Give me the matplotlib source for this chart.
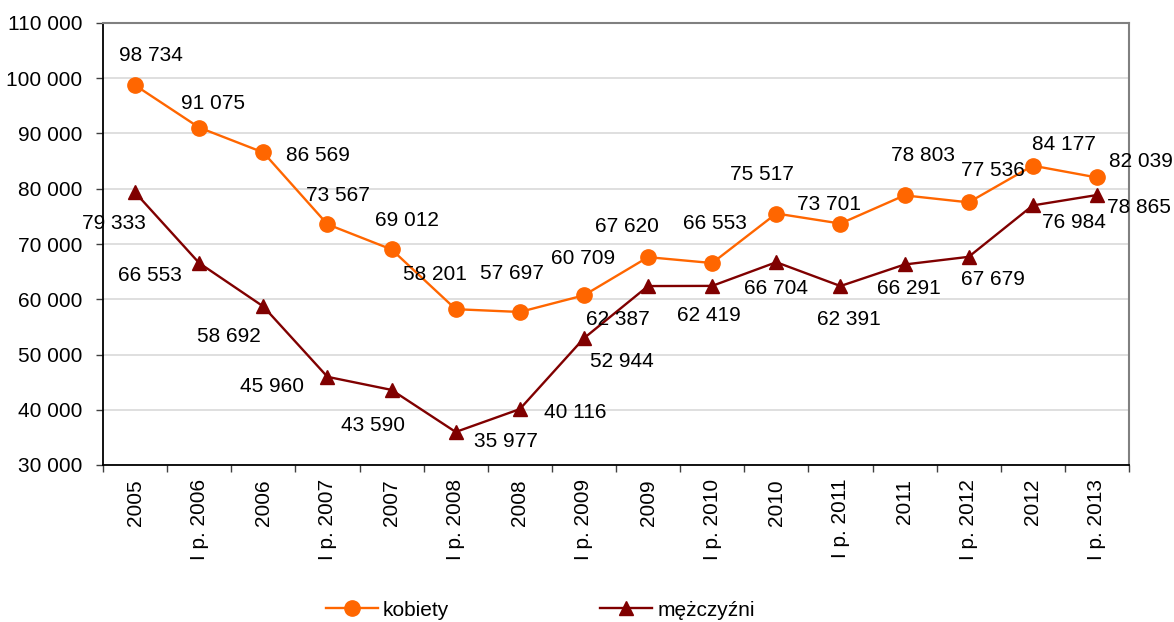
import matplotlib
matplotlib.use("Agg")
import matplotlib.pyplot as plt
import numpy as np

categories = ["2005", "I p. 2006", "2006", "I p. 2007", "2007", "I p. 2008", "2008",
              "I p. 2009", "2009", "I p. 2010", "2010", "I p. 2011", "2011",
              "I p. 2012", "2012", "I p. 2013"]
kobiety = [98734, 91075, 86569, 73567, 69012, 58201, 57697, 60709, 67620,
           66553, 75517, 73701, 78803, 77536, 84177, 82039]
mezczyzni = [79333, 66553, 58692, 45960, 43590, 35977, 40116, 52944, 62387,
             62419, 66704, 62391, 66291, 67679, 76984, 78865]

# label centre offsets in pixels (dx, dy; dy upward)
k_off = [(16, 32), (14, 26), (55, -1), (11, 31), (15, 31), (-21, 37), (-8, 40), (-1, 39),
         (-21, 33), (3, 42), (-14, 41), (-11, 21), (18, 42), (24, 34), (31, 23), (44, 18)]
m_off = [(-21, -29), (-49, -10), (-34, -28), (-55, -8), (-19, -34), (50, -8), (55, -1), (38, -21),
         (-30, -31), (-3, -28), (0, -24), (8, -32), (4, -22), (24, -21), (41, -15), (42, -11)]

plt.rcParams['font.family'] = ['Liberation Sans', 'DejaVu Sans']
FS = 15
HALF_DIGIT = 0.716 * FS * 100 / 72 / 2  # half digit height in px

def fmt(v):
    return f"{v:,}".replace(",", " ")

fig = plt.figure(figsize=(11.74, 6.22), dpi=100)
ax = fig.add_axes([103/1174, 1-465/622, (1129-103)/1174, (465-23)/622])

x = np.arange(len(categories))
orange = "#FF6600"
dred = "#800000"
ax.plot(x, kobiety, color=orange, lw=1.7, marker='o', ms=11, label="kobiety", zorder=3)
ax.plot(x, mezczyzni, color=dred, lw=1.7, marker='^', ms=10.5, label="mężczyźni", zorder=3)

for vals, offs in ((kobiety, k_off), (mezczyzni, m_off)):
    for xi, v, (dx, dy) in zip(x, vals, offs):
        ax.annotate(fmt(v), (xi, v), xytext=(dx, dy - HALF_DIGIT), textcoords='offset pixels',
                    ha='center', va='baseline', fontsize=FS, color='black', zorder=4)

ax.set_xlim(-0.5, len(categories) - 0.5)
ax.set_ylim(30000, 110000)
yt = np.arange(30000, 110001, 10000)
ax.set_yticks(yt)
ax.set_yticklabels([fmt(v) for v in yt], fontsize=FS)
ax.set_xticks(x)
ax.set_xticklabels(categories, rotation=90, fontsize=FS)
ax.tick_params(axis='x', which='major', length=0, pad=10)
ax.set_xticks(np.arange(-0.5, len(categories), 1), minor=True)
ax.tick_params(axis='x', which='minor', length=5, width=1, direction='out', color='#404040')
ax.tick_params(axis='y', length=5, width=1, direction='out', pad=10, color='#404040')
ax.grid(axis='y', color='#D9D9D9', lw=1.2)
ax.set_axisbelow(True)
for s in ['top', 'right']:
    ax.spines[s].set_color('#808080')
    ax.spines[s].set_linewidth(1.5)
for s in ['left', 'bottom']:
    ax.spines[s].set_color('black')
    ax.spines[s].set_linewidth(1.3)

fig.legend(loc='center', bbox_to_anchor=(540.5/1174, 1-610/622), ncol=2, frameon=False,
           fontsize=FS, handlelength=2.5, columnspacing=7.25, handletextpad=0.25)

fig.savefig("out.png", dpi=100)
